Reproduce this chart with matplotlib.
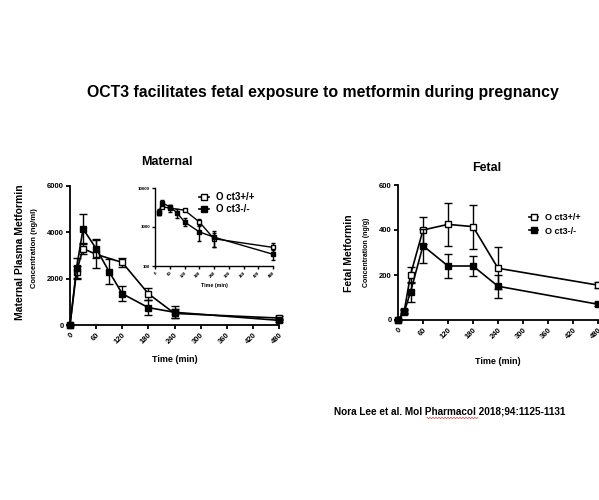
import matplotlib
matplotlib.use("Agg")
import matplotlib.pyplot as plt
from matplotlib.lines import Line2D
import numpy as np

plt.rcParams['font.family'] = ['Liberation Sans', 'DejaVu Sans']
plt.rcParams['font.weight'] = 'bold'

# ---- data ----
mat_time_wt = [0, 15, 30, 60, 120, 180, 240, 480]
mat_wt = [0, 2300, 3300, 3050, 2700, 1350, 500, 300]
mat_wt_err = [0, 250, 250, 600, 200, 250, 200, 80]
mat_time_ko = [0, 15, 30, 60, 90, 120, 180, 240, 480]
mat_ko = [0, 2450, 4150, 3300, 2300, 1350, 750, 550, 200]
mat_ko_err = [0, 450, 650, 400, 550, 320, 320, 250, 60]

fet_time = [0, 15, 30, 60, 120, 180, 240, 480]
fet_wt = [0, 40, 200, 400, 425, 415, 230, 155]
fet_wt_err = [0, 10, 35, 60, 97, 98, 93, 12]
fet_ko = [0, 35, 125, 330, 240, 240, 150, 70]
fet_ko_err = [0, 8, 45, 75, 55, 45, 50, 8]

xticks = [0, 60, 120, 180, 240, 300, 360, 420, 480]
mat_yticks = [0, 2000, 4000, 6000]
fet_yticks = [0, 200, 400, 600]
inset_yticks = [100, 1000, 10000]
labels = ["O ct3+/+", "O ct3-/-"]

W, H = 599, 500
fig = plt.figure(figsize=(W / 100, H / 100), dpi=100)


def px_axes(l, t, r, b):
    return fig.add_axes([l / W, 1 - b / H, (r - l) / W, (b - t) / H])


def style(ax, lw=1.3, fs=5.5, ms_len=3):
    for s in ['top', 'right']:
        ax.spines[s].set_visible(False)
    for s in ['left', 'bottom']:
        ax.spines[s].set_linewidth(lw)
    ax.tick_params(width=lw, length=ms_len, labelsize=fs, pad=1.5)
    for lab in ax.get_xticklabels():
        lab.set_rotation(45)
        lab.set_ha('right')
        lab.set_va('top')
        lab.set_rotation_mode('anchor')
        lab.set_fontweight('bold')
    for lab in ax.get_yticklabels():
        lab.set_fontweight('bold')


def draw(ax, tw, yw, ew, tk, yk, ek, ms=4.2, lw=1.2, cap=2.8):
    l1 = ax.errorbar(tw, yw, yerr=ew, color='black', lw=lw, marker='s', ms=ms,
                     mfc='white', mec='black', mew=1.0, capsize=cap, elinewidth=1.0,
                     capthick=1.0, clip_on=False, zorder=3)
    l2 = ax.errorbar(tk, yk, yerr=ek, color='black', lw=lw, marker='s', ms=ms,
                     mfc='black', mec='black', mew=1.0, capsize=cap, elinewidth=1.0,
                     capthick=1.0, clip_on=False, zorder=4)
    for art in (l1, l2):
        for c in art.get_children():
            c.set_clip_on(False)


def handles(ms, lw):
    return [Line2D([], [], color='black', lw=lw, marker='s', ms=ms, mfc='white',
                   mec='black', mew=1.0),
            Line2D([], [], color='black', lw=lw, marker='s', ms=ms, mfc='black',
                   mec='black', mew=1.0)]


# ---- maternal main ----
ax1 = px_axes(70, 186, 279, 325)
draw(ax1, mat_time_wt, mat_wt, mat_wt_err, mat_time_ko, mat_ko, mat_ko_err)
ax1.set_xlim(0, 480)
ax1.set_ylim(0, 6000)
ax1.set_xticks(xticks)
ax1.set_yticks(mat_yticks)
style(ax1)
ax1.set_xlabel("Time (min)", fontsize=6.5, fontweight='bold', labelpad=7)

# ---- inset ----
ax2 = px_axes(155, 188, 273, 266)
draw(ax2, mat_time_wt[1:], mat_wt[1:], mat_wt_err[1:], mat_time_ko[1:], mat_ko[1:],
     mat_ko_err[1:], ms=3.2, lw=1.0, cap=1.6)
ax2.set_yscale('log')
ax2.set_xlim(0, 480)
ax2.set_ylim(100, 10000)
ax2.set_xticks(xticks)
ax2.set_yticks(inset_yticks)
ax2.yaxis.set_minor_locator(matplotlib.ticker.NullLocator())
ax2.set_yticklabels([str(v) for v in inset_yticks])
style(ax2, lw=1.0, fs=3.2, ms_len=2)
ax2.set_xlabel("Time (min)", fontsize=3.8, fontweight='bold', labelpad=3)
ax2.legend(handles(4.2, 1.2), labels, loc='upper left',
           bbox_to_anchor=(44 / 118, 1 - 4 / 78), frameon=False,
           fontsize=7, handlelength=1.0, handletextpad=0.8, labelspacing=0.25,
           borderaxespad=0, borderpad=0)

# ---- fetal ----
ax3 = px_axes(398, 185, 598, 320)
draw(ax3, fet_time, fet_wt, fet_wt_err, fet_time, fet_ko, fet_ko_err)
ax3.set_xlim(0, 480)
ax3.set_ylim(0, 600)
ax3.set_xticks(xticks)
ax3.set_yticks(fet_yticks)
style(ax3)
ax3.set_xlabel("Time (min)", fontsize=6.5, fontweight='bold', labelpad=12)
ax3.legend(handles(4.2, 1.2), labels, loc='upper left',
           bbox_to_anchor=(131 / 200, 1 - 28 / 135), frameon=False,
           fontsize=6.5, handlelength=1.0, handletextpad=0.8, labelspacing=0.5,
           borderaxespad=0, borderpad=0)

# ---- texts ----
fig.text(323 / W, 1 - 93 / H, "OCT3 facilitates fetal exposure to metformin during pregnancy",
         ha='center', va='center', fontsize=11.4, fontweight='bold')
fig.text(167 / W, 1 - 162 / H, "Maternal", ha='center', va='center', fontsize=9,
         fontweight='bold')
fig.text(487 / W, 1 - 168 / H, "Fetal", ha='center', va='center', fontsize=9,
         fontweight='bold')
fig.text(20 / W, 1 - 252 / H, "Maternal Plasma Metformin", rotation=90, ha='center',
         va='center', fontsize=7.5, fontweight='bold')
fig.text(35 / W, 1 - 248 / H, "Concentration (ng/ml)", rotation=90, ha='center',
         va='center', fontsize=5.5, fontweight='bold')
fig.text(349 / W, 1 - 253 / H, "Fetal Metformin", rotation=90, ha='center',
         va='center', fontsize=7.5, fontweight='bold')
fig.text(366 / W, 1 - 252 / H, "Concentration (ng/g)", rotation=90, ha='center',
         va='center', fontsize=5.0, fontweight='bold')
fig.text(334 / W, 1 - 412 / H, "Nora Lee et al. Mol Pharmacol 2018;94:1125-1131",
         ha='left', va='center', fontsize=7.2, fontweight='bold')

# spell-check squiggle under "Pharmacol"
sx = np.arange(427, 479, 1.5)
sy = 418 + 0.6 * np.where(np.arange(len(sx)) % 2 == 0, -1, 1)
fig.add_artist(Line2D(sx / W, 1 - sy / H, color='#e03030', lw=0.5,
                      transform=fig.transFigure))

fig.savefig("out.png", dpi=100)
